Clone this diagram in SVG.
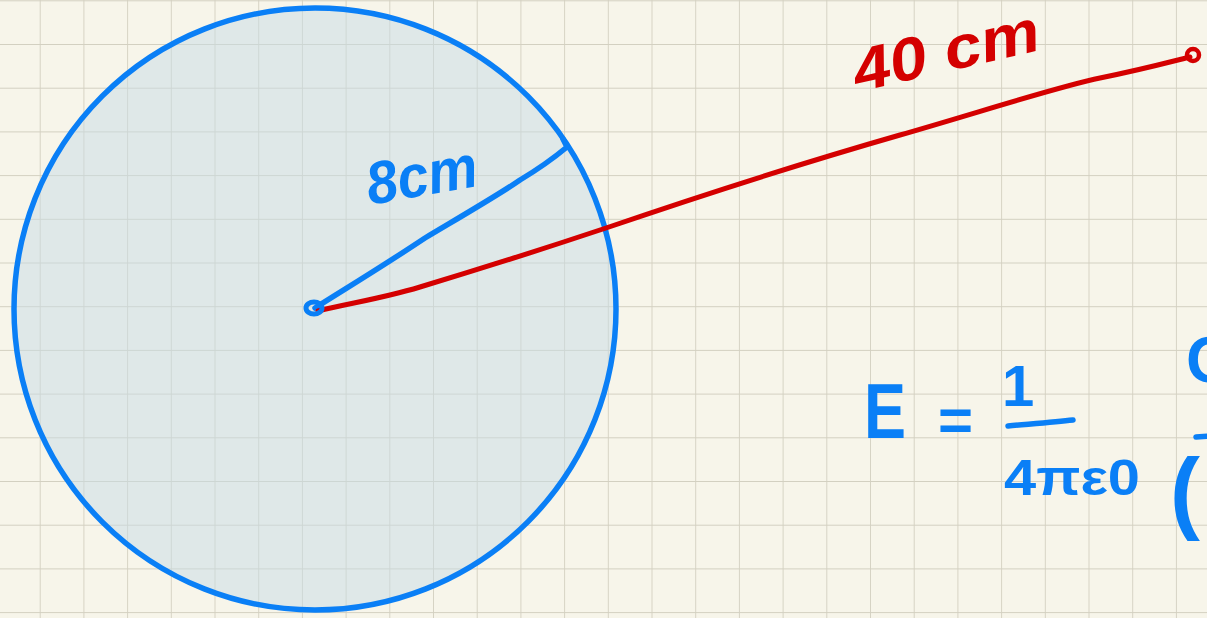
<svg xmlns="http://www.w3.org/2000/svg" width="1207" height="618" viewBox="0 0 1207 618">
  <defs>
    <pattern id="grid" patternUnits="userSpaceOnUse" x="-3" y="0.3" width="43.7" height="43.7">
      <path d="M43.7 0V43.7M0 0H43.7" fill="none" stroke="#d3d0c1" stroke-width="1.8"/>
    </pattern>
    <style>
      .blue { fill: none; stroke: #0a7ff6; stroke-linecap: round; stroke-linejoin: round; }
      .red { fill: none; stroke: #d40000; stroke-linecap: round; stroke-linejoin: round; }
      .tb { fill: #0a7ff6; font-family: "Liberation Sans", Arial, sans-serif; font-weight: bold; }
      .tr { fill: #d40000; font-family: "Liberation Sans", Arial, sans-serif; font-weight: bold; }
    </style>
  </defs>
  <rect width="1207" height="618" fill="#f7f5ea"/>
  <rect width="1207" height="618" fill="url(#grid)"/>

  <g id="sphere">
    <circle cx="315" cy="309" r="301" fill="#c7dbe6" fill-opacity="0.5" stroke="#0a7ff6" stroke-width="5.5"/>
  </g>

  <g id="connectors">
    <path id="radius" class="blue" stroke-width="5.5" d="M315 308 C340 292 380 268 425 238 C455 220 500 194 520 180 C540 168 555 157 567 147 L563 139"/>
    <path id="distance" class="red" stroke-width="5" d="M318 311 C350 303 380 299 420 287 C480 269 540 250 606 228 C720 189 820 158 900 135 C980 112 1060 86 1100 78 C1140 70 1170 62 1190 57"/>
    <circle cx="1193" cy="55" r="6" class="red" stroke-width="4.5"/>
    <ellipse cx="314" cy="308" rx="8" ry="6" class="blue" stroke-width="5"/>
  </g>

  <g id="label-radius">
    <text class="tb" x="370" y="205" font-size="60" font-style="italic" textLength="112" lengthAdjust="spacingAndGlyphs" transform="rotate(-10 370 205)">8cm</text>
  </g>
  <g id="label-distance">
    <text class="tr" x="858" y="92" font-size="60" font-style="italic" textLength="190" lengthAdjust="spacingAndGlyphs" transform="rotate(-13 858 92)">40 cm</text>
  </g>

  <g id="equation">
    <text class="tb" x="864" y="438" font-size="78" textLength="42" lengthAdjust="spacingAndGlyphs">E</text>
    <text class="tb" x="938" y="440" font-size="60">=</text>
    <text class="tb" x="1002" y="406" font-size="58">1</text>
    <path class="blue" stroke-width="5.5" d="M1008 426 C1030 424 1055 422 1073 420"/>
    <text class="tb" x="1004" y="495" font-size="50" textLength="136" lengthAdjust="spacingAndGlyphs">4πε0</text>
    <text class="tb" x="1186" y="382" font-size="64">Q</text>
    <path class="blue" stroke-width="5.5" d="M1196 437 L1210 436"/>
    <text class="tb" x="1170" y="522" font-size="90">(</text>
  </g>
</svg>
